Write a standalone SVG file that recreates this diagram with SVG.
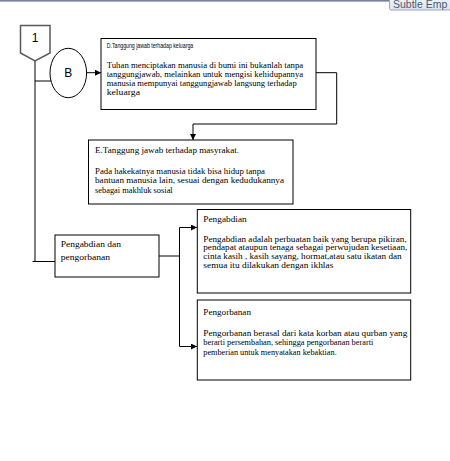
<svg xmlns="http://www.w3.org/2000/svg" width="450" height="461" viewBox="0 0 450 461">
<defs>
<marker id="ah" markerWidth="6" markerHeight="6" refX="6" refY="3" orient="auto" markerUnits="userSpaceOnUse">
<path d="M0,0 L6,3 L0,6 z" fill="#000"/>
</marker>
<linearGradient id="tip" x1="0" y1="0" x2="0" y2="1">
<stop offset="0" stop-color="#f4f7fb"/>
<stop offset="1" stop-color="#dde5f0"/>
</linearGradient>
</defs>
<style>
.box{fill:#fff;stroke:#000;stroke-width:1}
.ln{fill:none;stroke:#000;stroke-width:1}
.sr{font-family:"Liberation Serif","Times New Roman",serif;font-size:8.2px;fill:#000}
.ss{font-family:"Liberation Sans",Arial,sans-serif;fill:#000}
</style>
<rect x="0" y="0" width="450" height="461" fill="#fff"/>
<rect x="0" y="0" width="392" height="1.6" fill="#75829a"/>
<g id="tooltip">
<rect x="389.5" y="-6" width="66" height="16" rx="1.5" fill="url(#tip)" stroke="#9aa8bd"/>
<text x="393" y="8" font-family="'Liberation Sans',Arial,sans-serif" font-size="10.5" fill="#4a5870">Subtle Emp</text>
</g>
<g id="connectors">
<line class="ln" x1="35" y1="61" x2="35" y2="262"/>
<line class="ln" x1="35" y1="81" x2="51" y2="81"/>
<line class="ln" x1="32.5" y1="261.5" x2="55" y2="261.5"/>
<line class="ln" x1="86.7" y1="72.7" x2="101" y2="72.7" marker-end="url(#ah)"/>
<polyline class="ln" points="316,72.7 336.7,72.7 336.7,124 193,124 193,140" marker-end="url(#ah)"/>
<line class="ln" x1="159" y1="256" x2="179.5" y2="256"/>
<line class="ln" x1="179.5" y1="227.5" x2="179.5" y2="346.5"/>
<line class="ln" x1="179.5" y1="227.5" x2="197" y2="227.5" marker-end="url(#ah)"/>
<line class="ln" x1="179.5" y1="346.5" x2="197" y2="346.5" marker-end="url(#ah)"/>
</g>
<g id="node-1">
<polygon points="20.5,25.5 50,25.5 50,53 35,61 20.5,53" fill="#fff" stroke="#5a5a5a" stroke-width="1.5"/>
<text class="ss" x="35" y="41.5" font-size="12" text-anchor="middle">1</text>
</g>
<g id="node-B">
<ellipse cx="68.3" cy="73" rx="18.3" ry="24.7" class="box"/>
<text class="ss" x="68.3" y="77.3" font-size="12" text-anchor="middle">B</text>
</g>
<g id="node-D">
<rect class="box" x="101" y="38.5" width="215" height="71"/>
<text class="ss" x="106.7" y="47.5" font-size="6.3" textLength="86.5" lengthAdjust="spacingAndGlyphs">D.Tanggung jawab terhadap keluarga</text>
<text class="sr" x="106.7" y="68" textLength="196.5" lengthAdjust="spacingAndGlyphs">Tuhan menciptakan manusia di bumi ini bukanlah tanpa</text>
<text class="sr" x="106.7" y="77" textLength="196.5" lengthAdjust="spacingAndGlyphs">tanggungjawab, melainkan untuk mengisi kehidupannya</text>
<text class="sr" x="106.7" y="86" textLength="190" lengthAdjust="spacingAndGlyphs">manusia mempunyai tanggungjawab langsung terhadap</text>
<text class="sr" x="106.7" y="95" textLength="33.3" lengthAdjust="spacingAndGlyphs">keluarga</text>
</g>
<g id="node-E">
<rect class="box" x="88.5" y="140" width="204.5" height="64"/>
<text class="sr" x="95" y="152.5" textLength="144" lengthAdjust="spacingAndGlyphs">E.Tanggung jawab terhadap masyrakat.</text>
<text class="sr" x="95" y="174" textLength="170" lengthAdjust="spacingAndGlyphs">Pada hakekatnya manusia tidak bisa hidup tanpa</text>
<text class="sr" x="95" y="183.3" textLength="189" lengthAdjust="spacingAndGlyphs">bantuan manusia lain, sesuai dengan kedudukannya</text>
<text class="sr" x="95" y="192.6" textLength="77.7" lengthAdjust="spacingAndGlyphs">sebagai makhluk sosial</text>
</g>
<g id="node-pp">
<rect class="box" x="55" y="235" width="104" height="42"/>
<text class="sr" x="60.7" y="247.3" textLength="60.3" lengthAdjust="spacingAndGlyphs">Pengabdian dan</text>
<text class="sr" x="60.7" y="259.8" textLength="49.3" lengthAdjust="spacingAndGlyphs">pengorbanan</text>
</g>
<g id="node-pengabdian">
<rect class="box" x="197.3" y="209.5" width="213.4" height="83.5"/>
<text class="sr" x="203.3" y="221.5" textLength="43.4" lengthAdjust="spacingAndGlyphs">Pengabdian</text>
<text class="sr" x="203.3" y="241.5" textLength="203.4" lengthAdjust="spacingAndGlyphs">Pengabdian adalah perbuatan baik yang berupa pikiran,</text>
<text class="sr" x="203.3" y="250.2" textLength="204" lengthAdjust="spacingAndGlyphs">pendapat ataupun tenaga sebagai perwujudan kesetiaan,</text>
<text class="sr" x="203.3" y="258.9" textLength="198.4" lengthAdjust="spacingAndGlyphs">cinta kasih , kasih sayang, hormat,atau satu ikatan dan</text>
<text class="sr" x="203.3" y="267.6" textLength="130" lengthAdjust="spacingAndGlyphs">semua itu dilakukan dengan ikhlas</text>
</g>
<g id="node-pengorbanan">
<rect class="box" x="197.3" y="300" width="213.4" height="80"/>
<text class="sr" x="203.3" y="314.9" textLength="47.7" lengthAdjust="spacingAndGlyphs">Pengorbanan</text>
<text class="sr" x="203.3" y="335.9" textLength="204" lengthAdjust="spacingAndGlyphs">Pengorbanan berasal dari kata korban atau qurban yang</text>
<text class="sr" x="203.3" y="345.2" textLength="170" lengthAdjust="spacingAndGlyphs">berarti persembahan, sehingga pengorbanan berarti</text>
<text class="sr" x="203.3" y="355" textLength="133.4" lengthAdjust="spacingAndGlyphs">pemberian untuk menyatakan kebaktian.</text>
</g>
</svg>
